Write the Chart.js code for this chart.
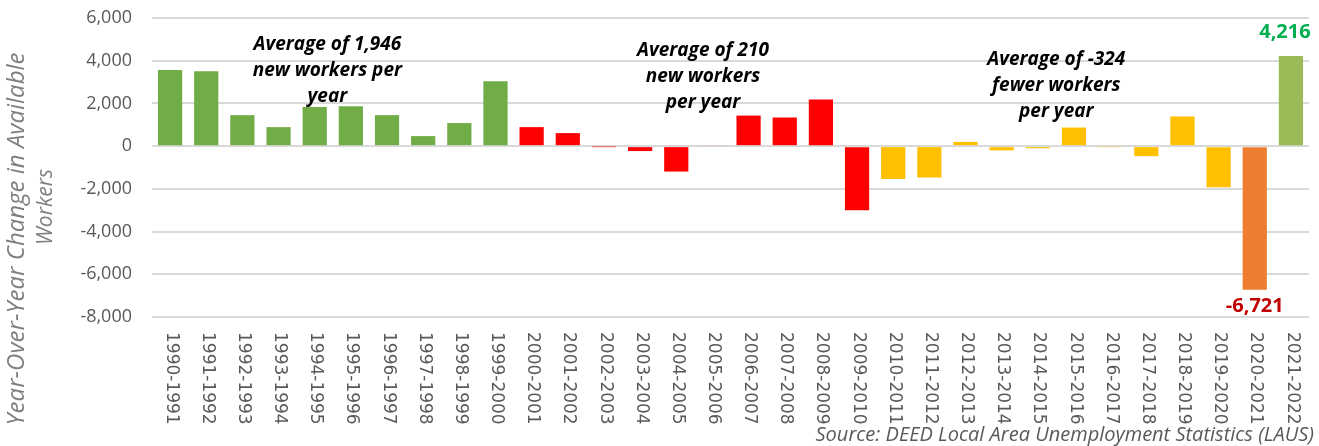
<!DOCTYPE html>
<html>
<head>
<meta charset="utf-8">
<script src="https://cdn.jsdelivr.net/npm/chart.js@4"></script>
<style>
  body { margin: 0; background: #fff; }
  #wrap { width: 1319px; height: 446px; position: relative; }
</style>
</head>
<body>
<div id="wrap"><canvas id="workers"></canvas></div>
<script>
// periods
const periods = [
  "1990-1991", "1991-1992", "1992-1993", "1993-1994", "1994-1995", "1995-1996",
  "1996-1997", "1997-1998", "1998-1999", "1999-2000", "2000-2001", "2001-2002",
  "2002-2003", "2003-2004", "2004-2005", "2005-2006", "2006-2007", "2007-2008",
  "2008-2009", "2009-2010", "2010-2011", "2011-2012", "2012-2013", "2013-2014",
  "2014-2015", "2015-2016", "2016-2017", "2017-2018", "2018-2019", "2019-2020",
  "2020-2021", "2021-2022",
];

// year-over-year change in available workers
const changes = [
  3560, 3510, 1450, 890, 1830, 1870, 1450, 470, 1080, 3040,
  890, 610, -20, -230, -1190, 50, 1430, 1340, 2180, -3000,
  -1540, -1470, 200, -200, -100, 870, -30, -470, 1390, -1930,
  -6721, 4216,
];

const yTicks = [-8000, -6000, -4000, -2000, 0, 2000, 4000, 6000];

// which decade group each bar belongs to (drives the colour)
const groups = [
  "90s", "90s", "90s", "90s", "90s", "90s", "90s", "90s", "90s", "90s",
  "00s", "00s", "00s", "00s", "00s", "00s", "00s", "00s", "00s", "00s",
  "10s", "10s", "10s", "10s", "10s", "10s", "10s", "10s", "10s", "10s",
  "covid", "latest",
];

const averageNotes = [
  { at: 4.35, value: 4775, lines: ["Average of 1,946", "new workers per", "year"] },
  { at: 14.74, value: 4460, lines: ["Average of 210", "new workers", "per year"] },
  { at: 24.51, value: 4030, lines: ["Average of -324", "fewer workers", "per year"] },
];

const colors = {
  "90s": "#70AD47",
  "00s": "#FF0000",
  "10s": "#FFC000",
  covid: "#ED7D31",
  latest: "#9BBB59",
  grid: "#D9D9D9",
  tick: "#595959",
  title: "#7F7F7F",
  labelUp: "#00B050",
  labelDown: "#C00000",
};

const fmt = (v) => v.toLocaleString("en-US");

function rotatedText(ctx, text, x, y, angle) {
  ctx.save();
  ctx.translate(x, y);
  ctx.rotate(angle);
  ctx.fillText(text, 0, 0);
  ctx.restore();
}

const extrasPlugin = {
  id: "extras",
  afterDraw: (chart) => {
    const ctx = chart.ctx;
    const x = chart.scales.x;
    const y = chart.scales.y;
    const area = chart.chartArea;

    // x labels, rotated clockwise and reading downwards
    ctx.save();
    ctx.font = "17px 'DejaVu Sans'";
    ctx.fillStyle = colors.tick;
    ctx.textAlign = "left";
    ctx.textBaseline = "middle";
    periods.forEach((p, i) => {
      rotatedText(ctx, p, x.getPixelForValue(i) + 1, area.bottom + 15, Math.PI / 2);
    });
    ctx.restore();

    // y axis title
    ctx.save();
    ctx.fillStyle = colors.title;
    ctx.textAlign = "center";
    ctx.textBaseline = "middle";
    ctx.font = "italic 24px 'Open Sans'";
    rotatedText(ctx, "Year-Over-Year Change in Available", 17, 239, -Math.PI / 2);
    ctx.font = "italic 21px 'Open Sans'";
    rotatedText(ctx, "Workers", 46, 207, -Math.PI / 2);
    ctx.restore();

    // period averages
    ctx.save();
    ctx.font = "italic bold 19px 'Open Sans'";
    ctx.fillStyle = "#000";
    ctx.textAlign = "center";
    ctx.textBaseline = "middle";
    averageNotes.forEach((n) => {
      const cx = x.getPixelForValue(n.at);
      const cy = y.getPixelForValue(n.value);
      n.lines.forEach((line, k) => ctx.fillText(line, cx, cy + k * 26));
    });
    ctx.restore();

    // labels on the last two bars
    const bars = chart.getDatasetMeta(0).data;
    const last = changes.length - 1;
    ctx.save();
    ctx.font = "bold 20px 'Open Sans'";
    ctx.textAlign = "center";
    ctx.fillStyle = colors.labelUp;
    ctx.textBaseline = "bottom";
    ctx.fillText(fmt(changes[last]), bars[last].x - 6, bars[last].y - 14);
    ctx.fillStyle = colors.labelDown;
    ctx.textBaseline = "top";
    ctx.fillText(fmt(changes[last - 1]), bars[last - 1].x, bars[last - 1].y + 7);
    ctx.restore();

    // source
    ctx.save();
    ctx.font = "italic 20px 'Open Sans'";
    ctx.fillStyle = colors.tick;
    ctx.textAlign = "right";
    ctx.textBaseline = "middle";
    ctx.fillText("Source: DEED Local Area Unemployment Statistics (LAUS)", 1314, 435);
    ctx.restore();
  },
};

new Chart(document.getElementById("workers"), {
  type: "bar",
  data: {
    labels: periods,
    datasets: [
      {
        data: changes,
        backgroundColor: groups.map((g) => colors[g]),
        categoryPercentage: 1,
        barPercentage: 0.67,
      },
    ],
  },
  options: {
    animation: false,
    responsive: true,
    maintainAspectRatio: false,
    layout: { padding: { top: 18, right: 10, bottom: 0, left: 0 } },
    plugins: { legend: { display: false }, tooltip: { enabled: false } },
    scales: {
      x: {
        grid: { display: false },
        border: { display: false },
        ticks: { display: false },
        afterFit: (scale) => { scale.height = 129; },
      },
      y: {
        min: -8000,
        max: 6000,
        afterBuildTicks: (scale) => { scale.ticks = yTicks.map((v) => ({ value: v })); },
        grid: { color: colors.grid, lineWidth: 2, drawTicks: false },
        border: { display: false },
        ticks: {
          color: colors.tick,
          font: { family: "'Open Sans'", size: 18 },
          padding: 20,
          callback: (v) => fmt(v),
        },
        afterFit: (scale) => {
          scale.width = 152;
          // labels may overhang the plot edges like the original
          scale.paddingTop = 0;
          scale.paddingBottom = 0;
        },
      },
    },
  },
  plugins: [extrasPlugin],
});
</script>
</body>
</html>
